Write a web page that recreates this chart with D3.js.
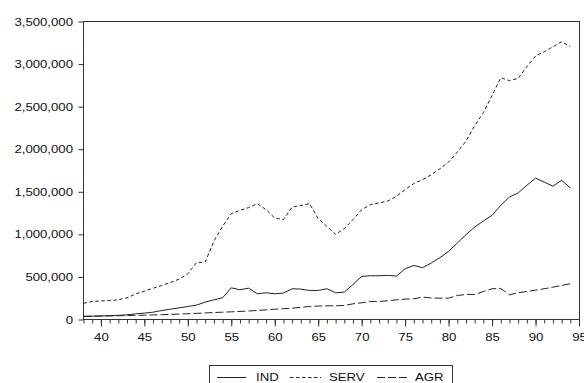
<!DOCTYPE html>
<html>
<head>
<meta charset="utf-8">
<script src="https://cdn.jsdelivr.net/npm/d3@7"></script>
<style>
  html, body { margin: 0; padding: 0; background: #fff; }
  svg { display: block; }
  text { font-family: "Liberation Sans", Arial, sans-serif; fill: #111; }
</style>
</head>
<body>
<svg id="chart" width="584" height="383"></svg>
<script>
const years = d3.range(38, 95);
const IND = [38000, 40000, 42000, 45000, 49000, 55000, 67000, 75000, 86000, 106000,
  121000, 137000, 153000, 169000, 204000, 231000, 255000, 372000, 349000, 368000,
  302000, 314000, 302000, 310000, 361000, 357000, 341000, 341000, 361000, 314000,
  321000, 412000, 506000, 514000, 514000, 518000, 510000, 596000, 635000, 608000,
  663000, 726000, 800000, 898000, 996000, 1086000, 1157000, 1224000, 1341000, 1439000,
  1486000, 1576000, 1660000, 1615000, 1565000, 1635000, 1545000];
const SERV = [190000, 212000, 218000, 222000, 232000, 255000, 300000, 333000, 368000, 400000,
  435000, 474000, 537000, 668000, 674000, 921000, 1094000, 1243000, 1282000, 1314000,
  1361000, 1290000, 1192000, 1173000, 1321000, 1338000, 1361000, 1185000, 1094000, 1000000,
  1067000, 1173000, 1290000, 1349000, 1369000, 1392000, 1447000, 1526000, 1596000, 1643000,
  1700000, 1770000, 1850000, 1965000, 2095000, 2275000, 2430000, 2630000, 2840000, 2805000,
  2832000, 2969000, 3094000, 3145000, 3204000, 3262000, 3205000];
const AGR = [35000, 38000, 40000, 42000, 44000, 47000, 49000, 51000, 54000, 57000,
  60000, 64000, 67000, 72000, 77000, 82000, 86000, 90000, 95000, 100000,
  106000, 113000, 121000, 127000, 133000, 143000, 153000, 158000, 161000, 161000,
  165000, 184000, 196000, 212000, 212000, 220000, 231000, 239000, 243000, 263000,
  253000, 251000, 251000, 282000, 294000, 294000, 329000, 361000, 365000, 290000,
  314000, 329000, 345000, 361000, 380000, 400000, 420000];
const yTicks = [0, 500000, 1000000, 1500000, 2000000, 2500000, 3000000, 3500000];
const xMajorTicks = [40, 45, 50, 55, 60, 65, 70, 75, 80, 85, 90, 95];
const seriesNames = ["IND", "SERV", "AGR"];
const dashes = { IND: null, SERV: "3.5,2.5", AGR: "8,3" };

const svg = d3.select("#chart");
const L = 83.5, R = 579.5, T = 21.5, B = 319.5;
const SX = 1.2; // horizontal text stretch
const x = d3.scaleLinear().domain([38, 95]).range([L, R - 0.5]);
const y = d3.scaleLinear().domain([0, 3500000]).range([B, T]);

// frame
svg.append("rect").attr("x", L).attr("y", T).attr("width", R - L).attr("height", B - T)
  .attr("fill", "none").attr("stroke", "#333").attr("stroke-width", 1);

// y axis
const yAxis = svg.append("g").attr("transform", `translate(${L},0)`)
  .call(d3.axisLeft(y).tickValues(yTicks).tickSize(5).tickPadding(5).tickFormat(d3.format(",")));
yAxis.select(".domain").remove();
yAxis.selectAll("line").attr("stroke", "#333");
yAxis.selectAll("text").attr("font-size", 11)
  .attr("font-family", '"Liberation Sans", Arial, sans-serif')
  .attr("fill", "#111")
  .attr("x", -10.5 / SX)
  .attr("transform", `scale(${SX},1)`);

// x axis minor ticks
const xMinor = svg.append("g").attr("transform", `translate(0,${B})`)
  .call(d3.axisBottom(x).tickValues(d3.range(38, 96)).tickSize(4).tickFormat(""));
xMinor.select(".domain").remove();
xMinor.selectAll("line").attr("stroke", "#333");
// x axis major ticks + labels
const xAxis = svg.append("g").attr("transform", `translate(0,${B})`)
  .call(d3.axisBottom(x).tickValues(xMajorTicks).tickSize(7).tickPadding(7).tickFormat(d3.format("d")));
xAxis.select(".domain").remove();
xAxis.selectAll("line").attr("stroke", "#333");
xAxis.selectAll("text").attr("font-size", 11)
  .attr("font-family", '"Liberation Sans", Arial, sans-serif')
  .attr("fill", "#111")
  .attr("transform", `scale(${SX},1)`);

// lines
const data = { IND, SERV, AGR };
const line = d3.line().x((d, i) => x(years[i])).y(d => y(d));
seriesNames.forEach(name => {
  svg.append("path").datum(data[name])
    .attr("d", line)
    .attr("fill", "none")
    .attr("stroke", "#222")
    .attr("stroke-width", 1)
    .attr("stroke-dasharray", dashes[name]);
});

// legend
const lg = svg.append("g");
lg.append("rect").attr("x", 209.5).attr("y", 365.5).attr("width", 243).attr("height", 30)
  .attr("fill", "#fff").attr("stroke", "#333");
const items = [
  { name: "IND", x1: 217, x2: 246, tx: 256 },
  { name: "SERV", x1: 290, x2: 321, tx: 329 },
  { name: "AGR", x1: 377, x2: 409, tx: 415 }
];
items.forEach(it => {
  lg.append("line").attr("x1", it.x1).attr("x2", it.x2).attr("y1", 377.5).attr("y2", 377.5)
    .attr("stroke", "#222").attr("stroke-width", 1).attr("stroke-dasharray", dashes[it.name]);
  lg.append("text").attr("x", it.tx / SX).attr("y", 381.5).attr("font-size", 11)
    .attr("transform", `scale(${SX},1)`).text(it.name);
});
</script>
</body>
</html>
